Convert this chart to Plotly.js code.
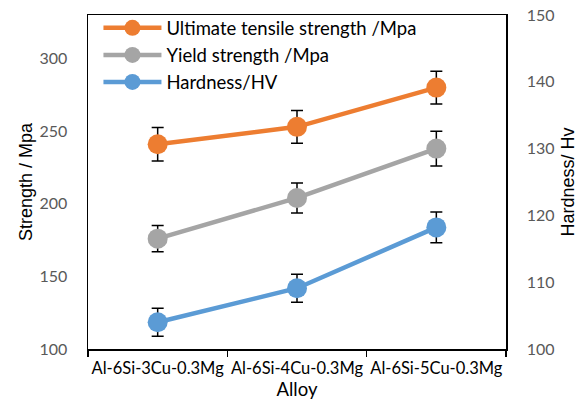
<!DOCTYPE html>
<html>
<head>
<meta charset="utf-8">
<script src="https://cdn.plot.ly/plotly-3.0.1.min.js"></script>
<style>html,body{margin:0;padding:0;background:#fff;}#chart{width:583px;height:400px;}</style>
</head>
<body>
<div id="chart"></div>
<script>
var alloys = ["Al-6Si-3Cu-0.3Mg", "Al-6Si-4Cu-0.3Mg", "Al-6Si-5Cu-0.3Mg"];
var utsValues = [241, 253, 280];
var utsErrors = [11.5, 11.3, 11.3];
var yieldValues = [176, 204, 238];
var yieldErrors = [9, 10.3, 12];
var hardnessValues = [104, 109.1, 118.2];
var hardnessErrors = [2.1, 2.1, 2.3];

var seriesNames = ["Ultimate tensile strength /Mpa", "Yield strength /Mpa", "Hardness/HV"];
var colors = ["#ED7D31", "#A5A5A5", "#5B9BD5"];

function mk(i, y, err, yaxis) {
  return {
    type: "scatter", mode: "lines+markers", name: seriesNames[i],
    x: alloys, y: y, yaxis: yaxis,
    line: {color: colors[i], width: 4.5},
    marker: {color: colors[i], size: 20},
    error_y: {type: "data", array: err, visible: true, color: "#000", thickness: 1.5, width: 6}
  };
}

var data = [
  mk(0, utsValues, utsErrors, "y"),
  mk(1, yieldValues, yieldErrors, "y"),
  mk(2, hardnessValues, hardnessErrors, "y2")
];

var tickFont = {family: "Lato, 'Open Sans', sans-serif", size: 16, color: "#595959"};

var layout = {
  width: 583, height: 400,
  margin: {l: 88, r: 77, t: 15, b: 51, autoexpand: false},
  paper_bgcolor: "#fff", plot_bgcolor: "#fff",
  showlegend: true,
  legend: {
    x: 0.025, y: 1.017, xanchor: "left", yanchor: "top",
    bgcolor: "rgba(0,0,0,0)",
    font: {family: "Lato, 'Open Sans', sans-serif", size: 18.5, color: "#000"},
    itemwidth: 58, tracegroupgap: 0
  },
  xaxis: {
    type: "category",
    range: [-0.5, 2.5],
    automargin: false,
    showline: true, linecolor: "#000", linewidth: 1.5, mirror: true,
    ticks: "outside", ticklen: 6, tickcolor: "#000", tickwidth: 1.5,
    tickson: "boundaries",
    showgrid: false, zeroline: false,
    tickangle: 0,
    ticklabelstandoff: 4,
    tickfont: {family: "Lato, 'Open Sans', sans-serif", size: 16.5, color: "#000"},
    title: {text: "Alloy", font: {family: "Lato, 'Open Sans', sans-serif", size: 18.5, color: "#000"}, standoff: 7}
  },
  yaxis: {
    range: [100, 330],
    automargin: false,
    tickvals: [100, 150, 200, 250, 300],
    showline: true, linecolor: "#000", linewidth: 1.5,
    ticks: "", showgrid: false, zeroline: false,
    tickfont: tickFont,
    ticklabelstandoff: 16,
    title: {text: "Strength / Mpa", font: {family: "'Liberation Sans', Arial, sans-serif", size: 18, color: "#000"}, standoff: 2}
  },
  yaxis2: {
    overlaying: "y", side: "right",
    range: [100, 150],
    automargin: false,
    tickvals: [100, 110, 120, 130, 140, 150],
    showline: true, linecolor: "#000", linewidth: 1.5,
    ticks: "", showgrid: false, zeroline: false,
    tickfont: tickFont,
    ticklabelstandoff: 16,
    title: {text: "Hardness/ Hv", font: {family: "'Liberation Sans', Arial, sans-serif", size: 18, color: "#000"}, standoff: 8}
  }
};

Plotly.newPlot("chart", data, layout, {displayModeBar: false, staticPlot: true});
</script>
</body>
</html>
